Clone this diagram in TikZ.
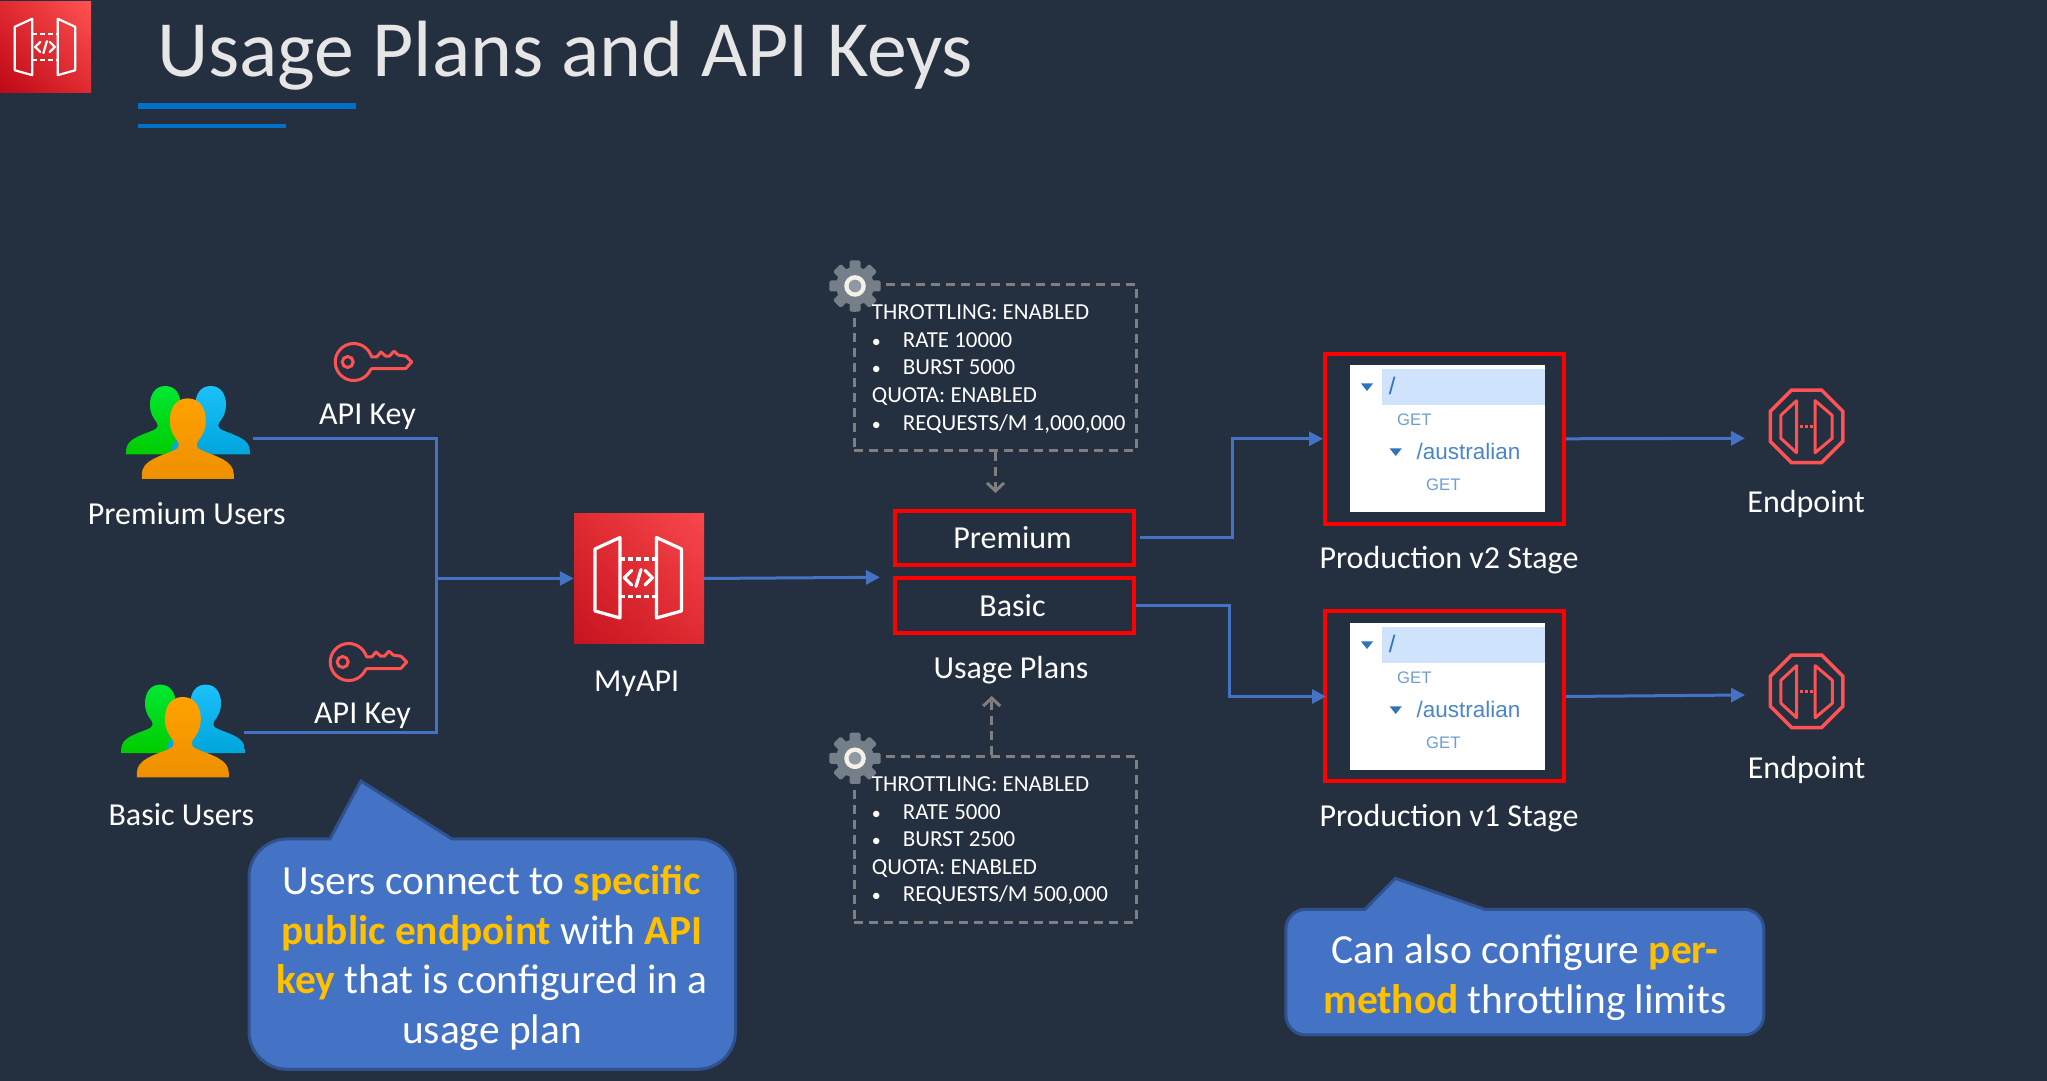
\documentclass[tikz,border=0pt]{standalone}
\usepackage{fontspec}
\setmainfont{Carlito}
\newfontfamily\treefont{Liberation Sans}
\usetikzlibrary{arrows.meta,shapes.geometric,shadings}
\definecolor{slidebg}{HTML}{242F3F}
\definecolor{flowblue}{HTML}{4472C4}
\definecolor{calloutedge}{HTML}{2F528F}
\definecolor{amber}{HTML}{FFC000}
\definecolor{keyred}{HTML}{FF5252}
\definecolor{dashgrey}{HTML}{7F7F7F}
\definecolor{gearbody}{HTML}{747F89}
\definecolor{gearhub}{HTML}{8E99A3}
\definecolor{gearring}{HTML}{F5F1E6}
\definecolor{titlegrey}{HTML}{E6E6E6}
\definecolor{ruleblue}{HTML}{0070C8}
\definecolor{tilelow}{HTML}{C7131F}
\definecolor{tilemid}{HTML}{DF2A30}
\definecolor{tilehigh}{HTML}{F7484E}
\definecolor{logolow}{HTML}{BD0816}
\definecolor{greentop}{HTML}{00E832}
\definecolor{greenlow}{HTML}{00CC00}
\definecolor{bluetop}{HTML}{1CC0FA}
\definecolor{bluelow}{HTML}{00A5DC}
\definecolor{orangetop}{HTML}{FFA200}
\definecolor{orangelow}{HTML}{EE8F00}
\definecolor{treehigh}{HTML}{CFE4FC}
\definecolor{treeblue}{HTML}{2F73B9}
\definecolor{treepath}{HTML}{4A86C8}
\definecolor{treeget}{HTML}{6F9FD2}
\newcommand{\personpath}{(0,0) .. controls (12,0) and (18,-10) .. (18,-22) .. controls (18,-32) and (14,-38) .. (10,-43) .. controls (8,-47) and (9,-50) .. (14,-52) .. controls (28,-58) and (46,-62) .. (46,-76) -- (46,-80.5) -- (-46,-80.5) -- (-46,-76) .. controls (-46,-62) and (-28,-58) .. (-14,-52) .. controls (-9,-50) and (-8,-47) .. (-10,-43) .. controls (-14,-38) and (-18,-32) .. (-18,-22) .. controls (-18,-10) and (-12,0) .. (0,0) -- cycle}
\newcommand{\planitem}[1]{\makebox[31pt][l]{\fontsize{18}{18}\selectfont•}#1}
\tikzset{
treetext/.style={anchor=base west,inner sep=0pt},
usergroup/.pic={
	\shade[shift={(-22.5,12.4)},scale=0.85,top color=greentop,bottom color=greenlow] \personpath;
	\shade[shift={(22.9,12.4)},scale=0.85,top color=bluetop,bottom color=bluelow] \personpath;
	\shade[top color=orangetop,bottom color=orangelow] \personpath;
},
apikey/.pic={
	\draw[keyred,line width=3pt,line join=round] (22.8,7.8) arc[start angle=25,end angle=335,radius=18.5] -- (24,-6.7) -- (58,-6.7) -- (64,0) -- (58.3,5.8) -- (50.7,6.8) -- (46.3,10.8) -- (41.7,5.8) -- (38,5.8) -- (33.3,10) -- (29,5) -- (24,5) -- cycle;
	\draw[keyred,line width=3pt] (0,0) circle[radius=5.5];
},
apidoors/.pic={
	\draw[white,line join=round,pic actions] (-19,41) -- (-44,29.5) -- (-44,-32.5) -- (-19,-39.5) -- cycle;
	\draw[white,line join=round,pic actions] (17.5,41) -- (42.5,29.5) -- (42.5,-32.5) -- (17.5,-39.5) -- cycle;
	\draw[white,dash pattern=on 5pt off 3pt,pic actions] (-19,19.5) -- (17.5,19.5);
	\draw[white,dash pattern=on 5pt off 3pt,pic actions] (-19,-18) -- (17.5,-18);
	\draw[white,line cap=round,line join=round,pic actions] (-7.3,8) -- (-14.7,0.8) -- (-7.3,-6.5);
	\draw[white,line cap=round,pic actions] (2,9) -- (-3,-8);
	\draw[white,line cap=round,line join=round,pic actions] (6,8) -- (13.3,0.8) -- (6,-6.5);
},
endpointdoors/.pic={
	\draw[keyred,line width=3pt,line join=round] (-10,25.6) -- (-25.7,11) -- (-25.7,-12) -- (-10,-26.4) -- cycle;
	\draw[keyred,line width=3pt,line join=round] (8.6,25.6) -- (25.7,11) -- (25.7,-12) -- (8.6,-26.4) -- cycle;
	\draw[keyred,line width=3pt,dash pattern=on 3pt off 2pt] (-7,0) -- (6,0);
},
settingsgear/.pic={
	\fill[gearbody] (0,0) circle[radius=19];
	\foreach \a in {0,45,...,315}
		\fill[gearbody,rotate=\a,rounded corners=1.5pt] (-5.5,15) rectangle (5.5,25.7);
	\fill[gearring] (0,0) circle[radius=10.8];
	\fill[gearhub] (0,0) circle[radius=6.3];
},
stagetree/.pic={
	\fill[white] (0,0) rectangle (195,-147);
	\fill[treehigh] (32,-4.3) rectangle (195,-40);
	\fill[treeblue] (11,-18.5) -- (23,-18.5) -- (17,-26) -- cycle;
	\fill[treeblue] (39.7,-83.5) -- (51.7,-83.5) -- (45.7,-91) -- cycle;
	\node[treetext,text=treeblue,font=\treefont\fontsize{24}{28}\selectfont] (-root) at (38.6,-30) {/};
	\node[treetext,text=treeget,font=\treefont\fontsize{16.7}{20}\selectfont] (-getroot) at (47,-61) {GET};
	\node[treetext,text=treepath,font=\treefont\fontsize{22.5}{26}\selectfont] (-res) at (66.4,-94.3) {/australian};
	\node[treetext,text=treeget,font=\treefont\fontsize{16.7}{20}\selectfont] (-getres) at (76,-125.7) {GET};
},
}
\begin{document}
\begin{tikzpicture}[x=1pt,y=1pt]
\tikzstyle{every node}=[inner sep=0pt,text=white,font=\fontsize{32}{38}\selectfont];
\tikzstyle{caption}=[anchor=base];
\tikzstyle{apitile}=[minimum size=130pt,lower left=tilelow,upper right=tilehigh,upper left=tilemid,lower right=tilemid];
\tikzstyle{logotile}=[minimum size=91pt,lower left=logolow,upper right=keyred,upper left=tilemid,lower right=tilemid];
\tikzstyle{planbox}=[draw=red,line width=4pt,minimum width=238.4pt,minimum height=54.5pt];
\tikzstyle{stagebox}=[draw=red,line width=4pt,minimum width=239pt,minimum height=170pt];
\tikzstyle{quotabox}=[draw=dashgrey,line width=3pt,dash pattern=on 9pt off 6pt,minimum width=282.4pt,minimum height=166pt];
\tikzstyle{quotatext}=[anchor=north west,align=left,font=\fontsize{22.9}{27.6}\selectfont];
\tikzstyle{endpointbox}=[draw=keyred,line width=3.5pt,shape=regular polygon,regular polygon sides=8,minimum size=78.5pt];
\tikzstyle{flowline}=[draw=flowblue,line width=3pt];
\tikzstyle{flowarrow}=[flowline,-{Triangle[length=14pt,width=14pt]}];
\tikzstyle{quotaarrow}=[draw=dashgrey,line width=3pt,dash pattern=on 9pt off 6pt,-{Straight Barb[length=8pt,width=17pt]}];
\tikzstyle{calloutshape}=[fill=flowblue,draw=calloutedge,line width=3pt];
\tikzstyle{callouttext}=[anchor=north,align=center,font=\fontsize{41.4}{49.5}\selectfont];
\useasboundingbox (0,0) rectangle (2047,1081);
\fill[slidebg] (0,0) rectangle (2047,1081);

\node[logotile] (logo) at (45.5,1033.5) {};
\pic[scale=0.7,line width=2.2pt] at (logo) {apidoors};
\node[anchor=base west,text=titlegrey,font=\fontsize{79.8}{90}\selectfont] (title) at (157,1004) {Usage Plans and API Keys};
\fill[ruleblue] (138,978) rectangle (356,972);
\fill[ruleblue] (138,957) rectangle (286,953);

\pic at (187.8,682.6) {usergroup};
\pic at (182.8,384) {usergroup};
\node[caption] (premiumusers) at (186.7,556.2) {Premium Users};
\node[caption] (basicusers) at (181.3,255.8) {Basic Users};
\pic at (347.7,719) {apikey};
\pic at (342.7,419) {apikey};
\node[caption] (keypremium) at (367.5,656.6) {API Key};
\node[caption] (keybasic) at (362.5,357.2) {API Key};

\node[apitile] (myapi) at (639,502.5) {};
\pic[line width=3.2pt] at (myapi) {apidoors};
\node[caption] (myapilabel) at (636.7,389.5) {MyAPI};

\node[quotabox] (quotapremium) at (995.5,713.7) {};
\node[quotabox] (quotabasic) at (995.5,241.9) {};
\pic at (855,795) {settingsgear};
\pic at (855,322.7) {settingsgear};
\node[quotatext] (quotapremiumtext) at (871.7,776.3) {THROTTLING: ENABLED\\\planitem{RATE 10000}\\\planitem{BURST 5000}\\QUOTA: ENABLED\\\planitem{REQUESTS/M 1,000,000}};
\node[quotatext] (quotabasictext) at (871.7,304.6) {THROTTLING: ENABLED\\\planitem{RATE 5000}\\\planitem{BURST 2500}\\QUOTA: ENABLED\\\planitem{REQUESTS/M 500,000}};

\node[planbox] (planpremium) at (1014.5,543) {\hspace*{-4pt}Premium};
\node[planbox] (planbasic) at (1014.5,475.5) {\hspace*{-4pt}Basic};
\node[caption] (planslabel) at (1011,402.2) {Usage Plans};

\node[stagebox] (stagetwo) at (1444.5,642.2) {};
\node[stagebox] (stageone) at (1444.5,384.5) {};
\pic (treetwo) at (1350,716) {stagetree};
\pic (treeone) at (1350,458) {stagetree};
\node[caption] (stagetwolabel) at (1449,512.3) {Production v2 Stage};
\node[caption] (stageonelabel) at (1449,254) {Production v1 Stage};

\node[endpointbox] (endpointtwo) at (1806.5,654.7) {};
\node[endpointbox] (endpointone) at (1806.6,389.7) {};
\pic at (endpointtwo) {endpointdoors};
\pic at (endpointone) {endpointdoors};
\node[caption] (endpointtwolabel) at (1806.2,568) {Endpoint};
\node[caption] (endpointonelabel) at (1806.6,302.8) {Endpoint};

\coordinate (premiumout) at (253,642.7);
\coordinate (basicout) at (244,348.6);
\coordinate (apijoin) at (436,502.5);
\coordinate (plansin) at (880,503.7);
\coordinate (premiumtip) at (995.5,588);
\coordinate (basictip) at (991.7,385);
\draw[flowline] (premiumout) -| (apijoin);
\draw[flowline] (basicout) -| (apijoin);
\draw[flowarrow] (apijoin) -- (myapi.west);
\draw[flowarrow] (myapi.east) -- (plansin);
\draw[quotaarrow] (quotapremium.south) -- (premiumtip);
\draw[quotaarrow] ([xshift=-3.8pt]quotabasic.north) -- (basictip);
\draw[flowarrow] ([xshift=4.3pt]planpremium.east) -- ++(92.7,0) |- (stagetwo.west);
\draw[flowarrow] (planbasic.east) -- ++(93.6,0) |- ([xshift=3pt]stageone.west);
\draw[flowarrow] (stagetwo.east) -- ([xshift=-23.5pt,yshift=-12pt]endpointtwo.west);
\draw[flowarrow] (stageone.east) -- ([xshift=-23.5pt,yshift=-3.7pt]endpointone.west);

\draw[calloutshape] (360.9,300) -- (329.9,242) [rounded corners=38pt] -- (249,242) -- (249,11.7) -- (735.5,11.7) -- (735.5,242) [sharp corners] -- (452,242) -- cycle;
\node[callouttext] (calloutusers) at (492,215.5) {Users connect to \textcolor{amber}{\textbf{specific}}\\\textcolor{amber}{\textbf{public endpoint}} with \textcolor{amber}{\textbf{API}}\\\textcolor{amber}{\textbf{key}} that is configured in a\\usage plan};
\draw[calloutshape] (1395.3,202.7) -- (1365,171.7) [rounded corners=20pt] -- (1285.8,171.7) -- (1285.8,46) -- (1763.8,46) -- (1763.8,171.7) [sharp corners] -- (1484.5,171.7) -- cycle;
\node[callouttext] (calloutmethod) at (1525,146) {Can also configure \textcolor{amber}{\textbf{per-}}\\\textcolor{amber}{\textbf{method}} throttling limits};
\end{tikzpicture}
\end{document}
